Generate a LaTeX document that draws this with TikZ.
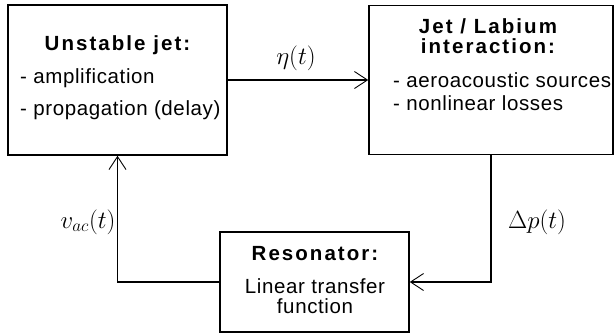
\documentclass[tikz,border=0pt]{standalone}
\usepackage{fontspec}
\setmainfont{Liberation Sans}[LetterSpace=3]
\newfontfamily\headfont{Liberation Sans}[LetterSpace=10]
\usetikzlibrary{arrows.meta}
\tikzset{
  block/.style={draw, line width=1.5pt, inner sep=0pt},
  head/.style={font=\headfont\bfseries\fontsize{20.5}{24}\selectfont, inner sep=0pt, anchor=base},
  item/.style={font=\fontsize{20.5}{24}\selectfont, inner sep=0pt, anchor=base},
  sig/.style={font=\fontsize{24}{28}\selectfont, inner sep=0pt},
  flow/.style={line width=1.5pt, -{Straight Barb[length=13pt,width=17pt,line width=0.9pt]}},
}
\begin{document}
\begin{tikzpicture}[x=1pt,y=-1pt]
    \useasboundingbox (0,0) rectangle (616,333);
    \node[block, minimum width=219pt, minimum height=150pt] (jet) at (117.5, 80) {};
    \node[block, minimum width=244pt, minimum height=149pt] (lab) at (491, 80) {};
    \node[block, minimum width=189pt, minimum height=100pt] (res) at (314.5, 282) {};
    \node[head] (jet_h) at (117.5, 50) {Unstable jet:};
    \node[item, anchor=base west] (jet_1) at (20, 83) {- amplification};
    \node[item, anchor=base west] (jet_2) at (20, 115) {- propagation (delay)};
    \node[head] (lab_h1) at (488, 33) {Jet / Labium};
    \node[head] (lab_h2) at (488, 53) {interaction:};
    \node[item, anchor=base west] (lab_1) at (393, 87) {- aeroacoustic sources};
    \node[item, anchor=base west] (lab_2) at (393, 110) {- nonlinear losses};
    \node[head] (res_h) at (315, 260) {Resonator:};
    \node[item] (res_1) at (315, 293) {Linear transfer};
    \node[item] (res_2) at (315, 313) {function};
    \draw[flow] (jet) -- (lab);
    \draw[flow] (lab.south) |- (res.east);
    \draw[flow] (res.west) -| (jet.south);
    \node[sig] (eta) at (296, 58) {$\eta(t)$};
    \node[sig] (vac) at (88, 222) {$v_{ac}(t)$};
    \node[sig] (dp) at (537, 222) {$\Delta p(t)$};
\end{tikzpicture}
\end{document}
